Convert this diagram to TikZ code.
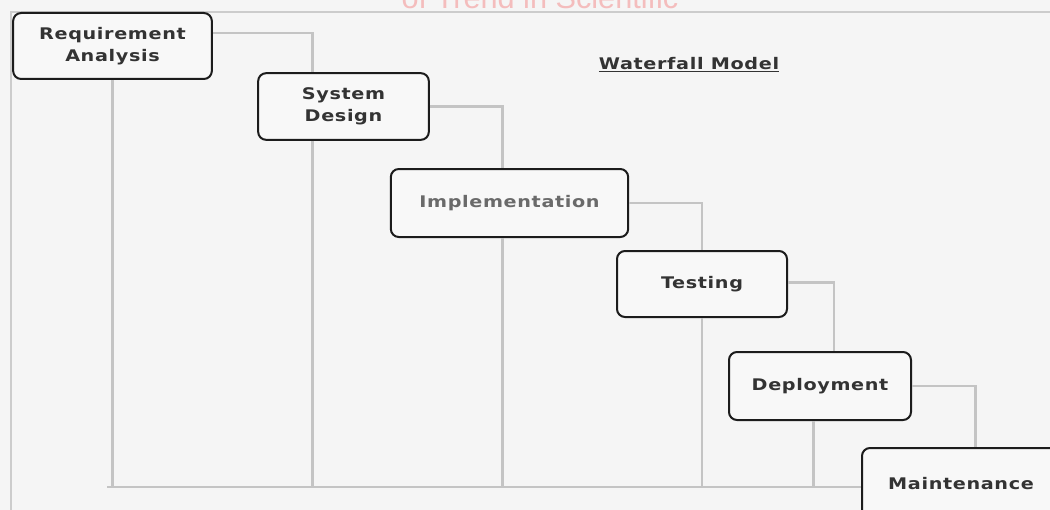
\documentclass[tikz,border=0pt]{standalone}
\usepackage{fontspec}
\newfontfamily\stagefont[FakeStretch=1.2,LetterSpace=4]{DejaVu Sans}
\newfontfamily\markfont{Liberation Sans}

\definecolor{bggray}{HTML}{F5F5F5}
\definecolor{boxfill}{HTML}{F8F8F8}
\definecolor{boxline}{HTML}{1C1C1C}
\definecolor{flowgray}{HTML}{C4C4C4}
\definecolor{framegray}{HTML}{CCCCCC}
\definecolor{stagetext}{HTML}{333333}
\definecolor{paletext}{HTML}{6A6A6A}
\definecolor{wmpink}{HTML}{F4BDBD}

\tikzset{
  stage/.style={draw=boxline, line width=1.5pt, rounded corners=6pt, fill=boxfill,
    align=center, inner sep=0pt, text=stagetext,
    font={\stagefont\bfseries\fontsize{12}{16.5}\selectfont}},
  flow/.style={draw=flowgray, line width=2.2pt},
}

\begin{document}
\begin{tikzpicture}[x=0.75pt,y=-0.75pt]

\useasboundingbox[fill=bggray] (0,0) rectangle (1050,510);

% watermark, cut at the top
\node[anchor=base, text=wmpink, font={\markfont\fontsize{23}{23}\selectfont}] (wm) at (540,9) {of Trend in Scientific};

% frame
\coordinate (ftl) at (11,12);
\draw[draw=framegray, line width=2pt] (1050,12) -- (ftl) -- (11,510);

\node[font={\stagefont\bfseries\fontsize{12}{14}\selectfont}, text=stagetext] (title) at (689,65) {\underline{Waterfall Model}};

% stages
\node[stage, minimum width=149pt, minimum height=49.5pt] (ra) at (112.5,46) {Requirement\\Analysis};
\node[stage, minimum width=128pt, minimum height=50pt] (sd) at (343.5,106.5) {System\\Design};
\node[stage, minimum width=178pt, minimum height=51pt, text=paletext] (impl) at (509.5,203) {Implementation};
\node[stage, minimum width=127.5pt, minimum height=49.5pt] (test) at (702,284) {Testing};
\node[stage, minimum width=136.5pt, minimum height=51pt] (deploy) at (820,386) {Deployment};
\node[stage, minimum width=148.5pt, minimum height=54pt] (maint) at (961,484) {Maintenance};

% flow down the steps
\draw[flow] ([yshift=9.75pt]ra.east) -| ([xshift=-23pt]sd.north);
\draw[flow] (sd.east) -| ([xshift=-5pt]impl.north);
\draw[flow] (impl.east) -| (test.north);
\draw[flow] ([yshift=1pt]test.east) -| ([xshift=10.5pt]deploy.north);
\draw[flow] (deploy.east) -| ([xshift=11pt]maint.north);

% lines back to the bottom
\coordinate (bot) at (0,487);
\draw[flow] (ra.south) -- (ra.south |- bot);
\draw[flow] ([xshift=-23pt]sd.south) -- ([xshift=-23pt]sd.south |- bot);
\draw[flow] ([xshift=-5pt]impl.south) -- ([xshift=-5pt]impl.south |- bot);
\draw[flow] (test.south) -- (test.south |- bot);
\draw[flow] ([xshift=-5pt]deploy.south) -- ([xshift=-5pt]deploy.south |- bot);
\draw[flow] ([xshift=-4pt]ra.south |- bot) -- (maint.west |- bot);

\end{tikzpicture}
\end{document}
